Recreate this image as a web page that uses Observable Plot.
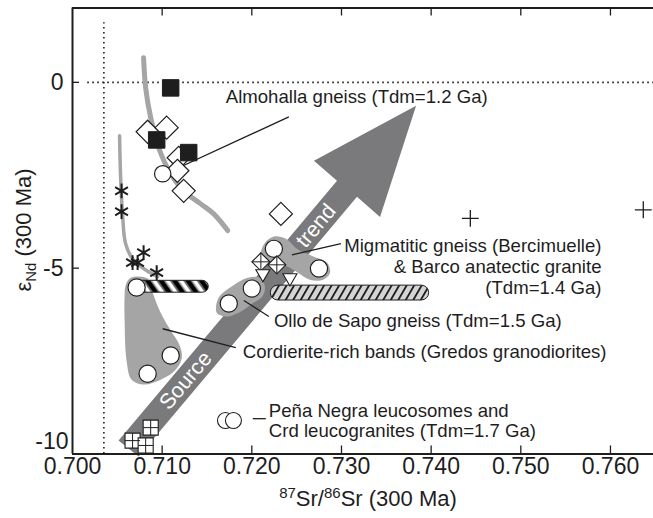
<!DOCTYPE html>
<html><head><meta charset="utf-8">
<script src="https://cdn.jsdelivr.net/npm/d3@7"></script>
<script src="https://cdn.jsdelivr.net/npm/@observablehq/plot@0.6"></script>
<style>body{margin:0;background:#fff}#chart{width:653px;height:518px}</style>
</head><body><div id="chart"></div>
<script>
// ---- axis ticks ----
const xTicks = [0.700, 0.710, 0.720, 0.730, 0.740, 0.750, 0.760];
const xTickLabels = ["0.700", "0.710", "0.720", "0.730", "0.740", "0.750", "0.760"];
const yTicks = [0, -5, -10];
const yTickLabels = ["0", "-5", "-10"];

// ---- data points [87Sr/86Sr, eNd] ----
const filledSquares = [[0.71095, -0.15], [0.70939, -1.55], [0.71296, -1.89]];
const openDiamonds = [[0.70838, -1.33], [0.71050, -1.22], [0.71184, -2.03], [0.71170, -2.38], [0.71240, -2.92], [0.72324, -3.54]];
const almohallaCircle = [[0.71006, -2.46]];
const asterisks = [[0.70547, -2.92], [0.70547, -3.48], [0.70670, -4.85], [0.70726, -4.85], [0.70793, -4.58], [0.70939, -5.12]];
const openCircles = [[0.70715, -5.52], [0.71095, -7.35], [0.70838, -7.84], [0.71743, -5.95], [0.72000, -5.55], [0.72246, -4.48], [0.72749, -5.01]];
const crossedDiamonds = [[0.72101, -4.83], [0.72279, -4.91]];
const downTriangles = [[0.72123, -5.15], [0.72425, -5.26]];
const boxedSquares = [[0.70670, -9.64], [0.70872, -9.29], [0.70816, -9.77]];
const crosses = [[0.74437, -3.66], [0.76366, -3.43]];
const legendCircles = [[0.71706, -9.10], [0.71795, -9.10]];

// ---- mixing curves ----
const mixingCurveA = [[0.70793, 0.66], [0.70816, -0.15], [0.70872, -0.95], [0.70961, -1.76], [0.71095, -2.46], [0.71240, -2.92], [0.71430, -3.27], [0.71575, -3.54], [0.71732, -3.99]];
const mixingCurveB = [[0.70525, -1.44], [0.70536, -2.51], [0.70559, -3.59], [0.70592, -4.34], [0.70670, -4.75], [0.70793, -5.01], [0.70950, -5.23]];

// ---- field outlines ----
const cordieriteField = [[0.70592, -5.47], [0.70648, -5.26], [0.70838, -5.28], [0.70894, -5.66], [0.70983, -6.20], [0.71095, -6.68], [0.71196, -7.08], [0.71218, -7.43], [0.71140, -7.76], [0.70983, -8.00], [0.70793, -8.13], [0.70659, -8.00], [0.70603, -7.49], [0.70581, -6.41], [0.70581, -5.74]];
const olloField = [[0.71609, -6.20], [0.71631, -5.79], [0.71788, -5.47], [0.71955, -5.26], [0.72089, -5.26], [0.72145, -5.47], [0.72123, -5.74], [0.71989, -5.98], [0.71855, -6.20], [0.71721, -6.30]];
const migmatiteField = [[0.72101, -4.58], [0.72145, -4.32], [0.72246, -4.15], [0.72380, -4.21], [0.72514, -4.50], [0.72693, -4.69], [0.72838, -4.85], [0.72872, -5.12], [0.72793, -5.31], [0.72648, -5.31], [0.72514, -5.12], [0.72369, -4.93], [0.72190, -4.88], [0.72112, -4.75]];
// pills: [x1, x2, y1, y2]
const bandedPill = [0.70670, 0.71520, -5.66, -5.34];
const hatchedPill = [0.72212, 0.73978, -5.87, -5.47];

// ---- source trend arrow ----
const arrowShape = [[0.73832, -0.63], [0.73430, -3.62], [0.73173, -3.08], [0.70737, -10.07], [0.70514, -9.64], [0.72950, -2.65], [0.72693, -2.11]];
const arrowLabels = [{x: 0.71263, y: -8.02, t: "Source"}, {x: 0.72715, y: -3.86, t: "trend"}];

// ---- reference lines ----
const bulkEarthSr = [0.7035];
const chur = [0];

// ---- annotations ----
const leaders = [
  [0.72413, -0.93, 0.71039, -2.46],
  [0.72994, -4.34, 0.72447, -4.64],
  [0.72190, -6.30, 0.71911, -5.87],
  [0.71821, -7.14, 0.71006, -6.63],
  [0.72011, -9.05, 0.72156, -9.05]
];
const startLabels = [
  {x: 0.71709, y: -0.39, t: "Almohalla gneiss (Tdm=1.2 Ga)"},
  {x: 0.72246, y: -6.41, t: "Ollo de Sapo gneiss (Tdm=1.5 Ga)"},
  {x: 0.71899, y: -7.27, t: "Cordierite-rich bands (Gredos granodiorites)"}
];
const penaLabel = [{x: 0.72190, y: -9.10, t: "Peña Negra leucosomes and\nCrd leucogranites (Tdm=1.7 Ga)"}];
const migmatiteLabel = [{x: 0.75900, y: -4.96, t: "Migmatitic gneiss (Bercimuelle)\n& Barco anatectic granite\n(Tdm=1.4 Ga)"}];

const W = 653, H = 518, mL = 72, mR = 0, mT = 7.5, mB = 64.5;
const frameH = H - mT - mB, frameW = W - mL - mR;
const ink = "#1e1e1e", fieldGray = "#a5a5a5", arrowGray = "#7a7a7c";
const px = d => d[0], py = d => d[1];
const fs = 18.6;

const plot = Plot.plot({
  width: W, height: H,
  marginLeft: mL, marginRight: mR, marginTop: mT, marginBottom: mB,
  x: {domain: [0.7, 0.7648], axis: null},
  y: {domain: [-10, 2], axis: null},
  style: {fontFamily: "'Liberation Sans', Arial, sans-serif", background: "#fff", color: ink},
  marks: [
    Plot.ruleX(bulkEarthSr, {y1: -10, y2: 1.6, stroke: ink, strokeWidth: 1.6, strokeDasharray: "1.6,3.4"}),
    Plot.ruleY(chur, {x1: 0.7017, x2: 0.7648, stroke: ink, strokeWidth: 1.6, strokeDasharray: "1.6,3.4"}),
    Plot.line(mixingCurveA, {x: px, y: py, curve: "catmull-rom", stroke: fieldGray, strokeWidth: 5}),
    Plot.line(mixingCurveB, {x: px, y: py, curve: "catmull-rom", stroke: fieldGray, strokeWidth: 3.5}),
    Plot.line(arrowShape, {x: px, y: py, curve: "linear-closed", fill: arrowGray, stroke: "none"}),
    Plot.text(arrowLabels, {x: "x", y: "y", text: "t", rotate: -50, fill: "white", fontSize: 21.5}),
    Plot.line(cordieriteField, {x: px, y: py, curve: "catmull-rom-closed", fill: fieldGray, stroke: "none"}),
    Plot.line(olloField, {x: px, y: py, curve: "catmull-rom-closed", fill: fieldGray, stroke: "none"}),
    Plot.line(migmatiteField, {x: px, y: py, curve: "catmull-rom-closed", fill: fieldGray, stroke: "none"}),
    Plot.rect([bandedPill], {x1: d => d[0], x2: d => d[1], y1: d => d[2], y2: d => d[3], rx: 6, fill: "url(#bwStripes)", stroke: ink, strokeWidth: 1}),
    Plot.rect([hatchedPill], {x1: d => d[0], x2: d => d[1], y1: d => d[2], y2: d => d[3], rx: 7.5, fill: "url(#hatch)", stroke: ink, strokeWidth: 1}),
    Plot.link(leaders, {x1: d => d[0], y1: d => d[1], x2: d => d[2], y2: d => d[3], stroke: ink, strokeWidth: 1.3}),
    Plot.dot(openDiamonds, {x: px, y: py, symbol: "diamond2", r: 10.4, fill: "white", stroke: ink, strokeWidth: 1.2}),
    Plot.dot(filledSquares, {x: px, y: py, symbol: "square", r: 9.3, fill: ink, stroke: ink, strokeWidth: 1}),
    Plot.dot(almohallaCircle, {x: px, y: py, r: 8.2, fill: "white", stroke: ink, strokeWidth: 1.2}),
    Plot.dot(asterisks, {x: px, y: py, symbol: "asterisk", r: 7, stroke: ink, strokeWidth: 2}),
    Plot.dot(openCircles, {x: px, y: py, r: 8.6, fill: "white", stroke: ink, strokeWidth: 1.2}),
    Plot.dot(crossedDiamonds, {x: px, y: py, symbol: "diamond2", r: 8.1, fill: "white", stroke: ink, strokeWidth: 1.1}),
    Plot.dot(crossedDiamonds, {x: px, y: py, symbol: "plus", r: 5.85, stroke: ink, strokeWidth: 1}),
    Plot.dot(downTriangles, {x: px, y: py, symbol: "triangle2", r: 6.7, rotate: 180, fill: "white", stroke: ink, strokeWidth: 1.1}),
    Plot.dot(boxedSquares, {x: px, y: py, symbol: "square", r: 8.5, fill: "white", stroke: ink, strokeWidth: 1.1}),
    Plot.dot(boxedSquares, {x: px, y: py, symbol: "plus", r: 4.9, stroke: ink, strokeWidth: 1}),
    Plot.dot(crosses, {x: px, y: py, symbol: "plus", r: 5.5, stroke: ink, strokeWidth: 1.3}),
    Plot.dot(legendCircles, {x: px, y: py, r: 8, fill: "white", stroke: ink, strokeWidth: 1.1}),
    Plot.text(startLabels, {x: "x", y: "y", text: "t", textAnchor: "start", fontSize: fs, fill: ink}),
    Plot.text(penaLabel, {x: "x", y: "y", text: "t", textAnchor: "start", fontSize: fs, lineHeight: 1.07, fill: ink}),
    Plot.text(migmatiteLabel, {x: "x", y: "y", text: "t", textAnchor: "end", fontSize: fs, lineHeight: 1.13, fill: ink}),
    // frame (left, top, bottom) and inward ticks
    Plot.ruleX(xTicks.slice(0, 1), {stroke: ink, strokeWidth: 2}),
    Plot.ruleY([-10, 2], {stroke: ink, strokeWidth: 2}),
    Plot.ruleX(xTicks.slice(1), {insetTop: frameH - 8, stroke: ink, strokeWidth: 1.3}),
    Plot.ruleX(xTicks.slice(1), {insetBottom: frameH - 8, stroke: ink, strokeWidth: 1.3}),
    Plot.ruleY(yTicks.slice(0, 2), {insetRight: frameW - 7, stroke: ink, strokeWidth: 1.3}),
    Plot.text(xTicks, {x: d => d, text: (d, i) => xTickLabels[i], frameAnchor: "bottom", dy: 20, fontSize: 23, fill: ink}),
    Plot.text(yTicks.slice(0, 2), {y: d => d, text: (d, i) => yTickLabels[i], frameAnchor: "left", textAnchor: "end", dx: -9, fontSize: 23, fill: ink}),
    Plot.text(yTicks.slice(2), {y: d => d, text: () => yTickLabels[2], frameAnchor: "left", textAnchor: "end", dx: -4, dy: -12, fontSize: 23, fill: ink})
  ]
});

// pattern definitions for the striped fields
const ns = "http://www.w3.org/2000/svg";
const defs = document.createElementNS(ns, "defs");
defs.innerHTML = `
<pattern id="bwStripes" patternUnits="userSpaceOnUse" width="11" height="11" patternTransform="rotate(-35)">
  <rect width="11" height="11" fill="#fff"/>
  <rect x="0" width="1.5" height="11" fill="#777"/>
  <rect x="1.5" width="4.5" height="11" fill="#000"/>
  <rect x="6" width="1.5" height="11" fill="#777"/>
</pattern>
<pattern id="hatch" patternUnits="userSpaceOnUse" width="6.5" height="6.5" patternTransform="rotate(30)">
  <rect width="6.5" height="6.5" fill="#d4d4d4"/>
  <rect x="0" width="1.7" height="6.5" fill="#111"/>
</pattern>`;
plot.insertBefore(defs, plot.firstChild);

// axis titles with super/subscripts
const svg = d3.select(plot);
const xt = svg.append("text").attr("x", 368).attr("y", 506).attr("text-anchor", "middle")
  .attr("font-size", 22).attr("fill", ink);
xt.append("tspan").attr("font-size", 15).attr("dy", -8).text("87");
xt.append("tspan").attr("dy", 8).text("Sr/");
xt.append("tspan").attr("font-size", 15).attr("dy", -8).text("86");
xt.append("tspan").attr("dy", 8).text("Sr (300 Ma)");
const yt = svg.append("text").attr("transform", "translate(31,230) rotate(-90)").attr("text-anchor", "middle")
  .attr("font-size", 22).attr("fill", ink);
yt.append("tspan").text("ε");
yt.append("tspan").attr("font-size", 15).attr("dy", 5).text("Nd");
yt.append("tspan").attr("dy", -5).text(" (300 Ma)");

document.getElementById("chart").appendChild(plot);
</script>
</body></html>
